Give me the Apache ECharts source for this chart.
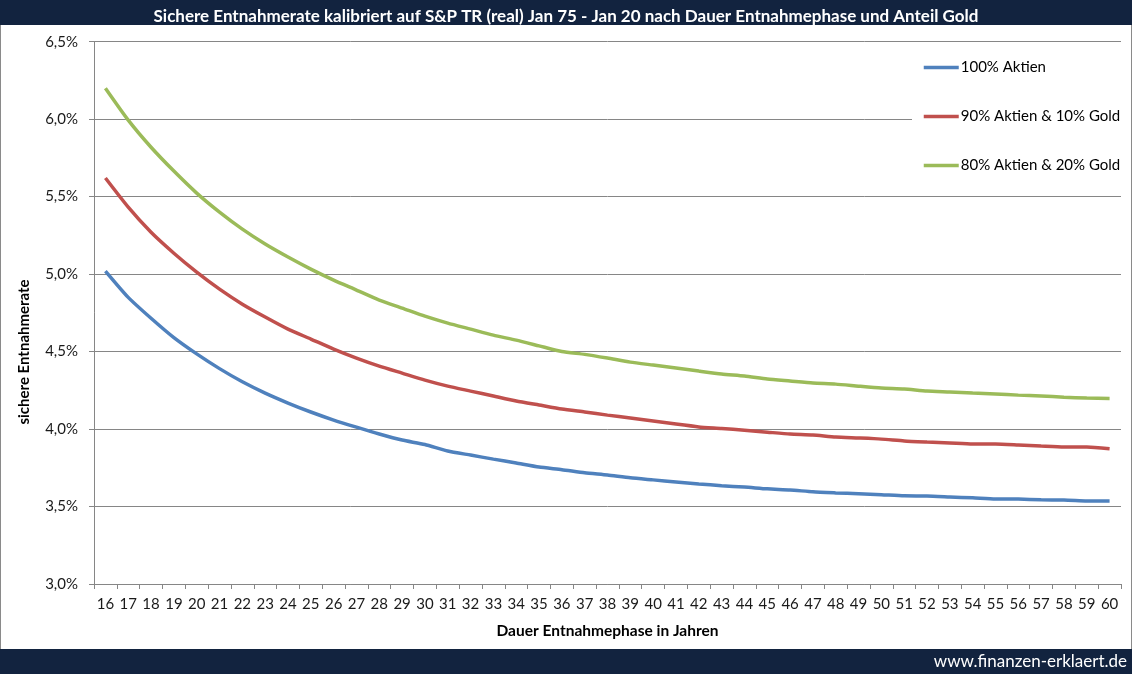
<!DOCTYPE html>
<html>
<head>
<meta charset="utf-8">
<script src="https://cdn.jsdelivr.net/npm/echarts@6/dist/echarts.min.js"></script>
<style>
html,body{margin:0;padding:0;background:#fff;}
#c{width:1132px;height:674px;}
</style>
</head>
<body>
<div id="c"></div>
<script>
var years = [16,17,18,19,20,21,22,23,24,25,26,27,28,29,30,31,32,33,34,35,36,37,38,39,40,41,42,43,44,45,46,47,48,49,50,51,52,53,54,55,56,57,58,59,60];
var aktien100 = [5.02,4.85,4.715,4.59,4.485,4.39,4.305,4.232,4.168,4.11,4.058,4.012,3.968,3.929,3.9,3.858,3.832,3.806,3.781,3.755,3.738,3.718,3.703,3.685,3.672,3.659,3.646,3.634,3.626,3.614,3.607,3.595,3.588,3.582,3.576,3.569,3.568,3.562,3.556,3.549,3.548,3.543,3.542,3.536,3.535];
var aktien90gold10 = [5.62,5.432,5.27,5.135,5.013,4.903,4.806,4.723,4.645,4.581,4.516,4.458,4.406,4.361,4.316,4.277,4.245,4.213,4.181,4.155,4.129,4.11,4.09,4.071,4.052,4.032,4.014,4.004,3.992,3.98,3.968,3.961,3.948,3.942,3.935,3.923,3.916,3.91,3.903,3.903,3.897,3.89,3.884,3.884,3.873];
var aktien80gold20 = [6.2,5.994,5.819,5.665,5.523,5.4,5.29,5.194,5.11,5.032,4.961,4.897,4.832,4.781,4.729,4.684,4.645,4.606,4.574,4.537,4.5,4.482,4.458,4.432,4.413,4.394,4.374,4.355,4.342,4.323,4.31,4.297,4.29,4.277,4.265,4.258,4.245,4.239,4.232,4.226,4.219,4.213,4.206,4.2,4.198];
var seriesNames = ['100% Aktien','90% Aktien & 10% Gold','80% Aktien & 20% Gold'];
var seriesColors = ['#4F81BD','#C0504D','#9BBB59'];
var titleText = 'Sichere Entnahmerate kalibriert auf S&P TR (real) Jan 75 - Jan 20 nach Dauer Entnahmephase und Anteil Gold';
var xName = 'Dauer Entnahmephase in Jahren';
var yName = 'sichere Entnahmerate';
var footer = 'www.finanzen-erklaert.de';

var FONT = 'Lato';
var chart = echarts.init(document.getElementById('c'), null, {renderer:'canvas'});
var seriesData = [aktien100, aktien90gold10, aktien80gold20];
var series = seriesData.map(function(d,i){
  return {
    name: seriesNames[i], type:'line', data:d, symbol:'none', smooth:0.2,
    lineStyle:{width:3.5, color:seriesColors[i]}, itemStyle:{color:seriesColors[i]},
    z: 3 + i
  };
});
chart.setOption({
  animation:false,
  backgroundColor:'#ffffff',
  title:{
    text:titleText, left:'center', top:3,
    textStyle:{color:'#ffffff', fontSize:17, fontWeight:'bold', fontFamily:FONT}
  },
  legend:{
    orient:'vertical', left:912, top:50,
    backgroundColor:'#ffffff',
    padding:[10,4,10,10],
    itemWidth:35, itemHeight:14, itemGap:34,
    itemStyle:{opacity:0},
    lineStyle:{width:3.5},
    textStyle:{fontSize:15, color:'#000', fontFamily:FONT, padding:[0,0,0,-3]},
    data:seriesNames
  },
  grid:{left:94, right:11, top:41.7, bottom:90, containLabel:false},
  xAxis:{
    type:'category', data:years, boundaryGap:true,
    axisLine:{lineStyle:{color:'#868686', width:1}},
    axisTick:{show:true, length:5, lineStyle:{color:'#868686'}},
    axisLabel:{interval:0, margin:13, fontSize:15, color:'#1a1a1a', fontFamily:FONT},
    name:xName, nameLocation:'middle', nameGap:39,
    nameTextStyle:{fontSize:15.5, fontWeight:'bold', color:'#000', fontFamily:FONT}
  },
  yAxis:{
    type:'value', min:3, max:6.5, interval:0.5,
    axisLine:{show:true, lineStyle:{color:'#868686', width:1}},
    axisTick:{show:true, length:5, lineStyle:{color:'#868686'}},
    splitLine:{show:true, lineStyle:{color:'#868686', width:1}},
    axisLabel:{margin:16, fontSize:15, color:'#1a1a1a', fontFamily:FONT,
      formatter:function(v){return v.toFixed(1).replace('.',',')+'%';}}
  },
  graphic:[
    {type:'rect', z:-10, shape:{x:0.5,y:0.5,width:1131,height:673}, style:{fill:'#fff', stroke:'#8a8a8a', lineWidth:1}},
    {type:'rect', z:-5, shape:{x:0,y:0,width:1132,height:25}, style:{fill:'#12233F'}},
    {type:'rect', z:-5, shape:{x:0,y:649,width:1132,height:25}, style:{fill:'#12233F'}},
    {type:'text', z:10, x:1127, y:662, style:{text:footer, fill:'#ffffff', font:'17px '+FONT, textAlign:'right', textVerticalAlign:'middle'}},
    {type:'text', z:10, x:24, y:352, rotation:Math.PI/2, style:{text:yName, fill:'#000', font:'bold 15px '+FONT, textAlign:'center', textVerticalAlign:'middle'}}
  ],
  series:series
});
</script>
</body>
</html>
